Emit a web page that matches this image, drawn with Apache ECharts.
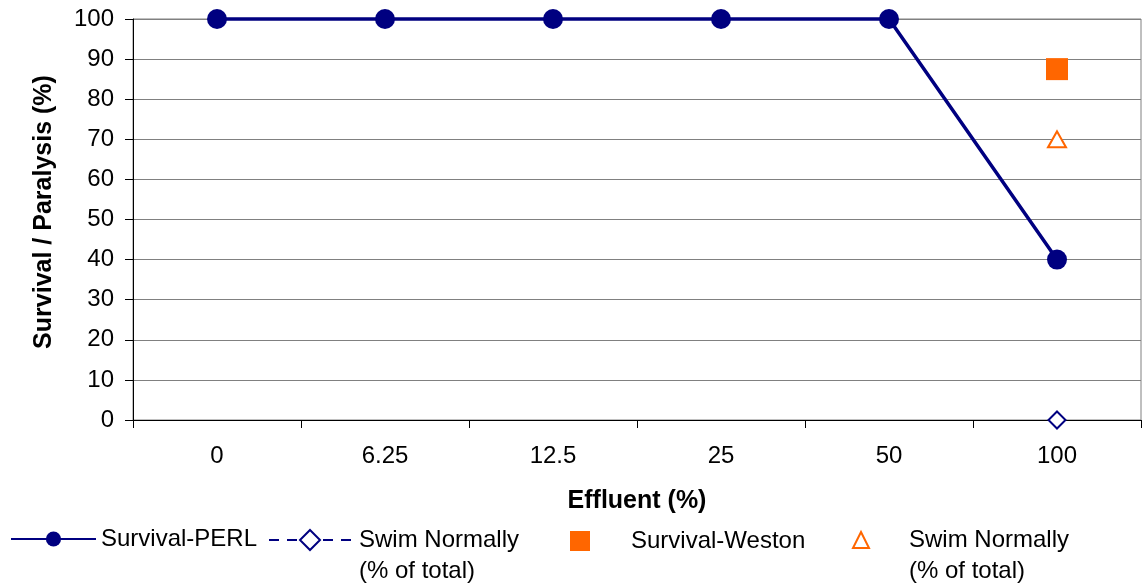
<!DOCTYPE html>
<html>
<head>
<meta charset="utf-8">
<script src="https://cdn.jsdelivr.net/npm/echarts@6/dist/echarts.min.js"></script>
<style>
html,body{margin:0;padding:0;background:#fff;}
#chart{width:1143px;height:584px;}
</style>
</head>
<body>
<div id="chart"></div>
<script>
const categories = ['0', '6.25', '12.5', '25', '50', '100'];
const survivalPERL = [100, 100, 100, 100, 100, 40];
const swimPERL = [null, null, null, null, null, 0];
const survivalWeston = [null, null, null, null, null, 87.5];
const swimWeston = [null, null, null, null, null, 70];
const seriesNames = ['Survival-PERL', 'Swim Normally (% of total)', 'Survival-Weston', 'Swim Normally (% of total) '];

const FONT = '"Liberation Sans", Arial, sans-serif';
const NAVY = '#000080';
const ORANGE = '#FF6600';

const chart = echarts.init(document.getElementById('chart'), null, {renderer: 'canvas'});

function legendFmt(name) {
  return name.indexOf('Swim Normally') === 0 ? '\nSwim Normally\n(% of total)' : name;
}

const option = {
  backgroundColor: '#ffffff',
  animation: false,
  grid: {
    left: 133, right: 2, top: 19, bottom: 164,
    show: true, borderColor: '#808080', borderWidth: 1
  },
  xAxis: {
    type: 'category',
    data: categories,
    boundaryGap: true,
    name: 'Effluent (%)',
    nameLocation: 'middle',
    nameGap: 69,
    nameTextStyle: {fontFamily: FONT, fontSize: 25, fontWeight: 'bold', color: '#000'},
    axisLine: {lineStyle: {color: '#000', width: 1}},
    axisTick: {show: true, length: 8, alignWithLabel: false, lineStyle: {color: '#000'}},
    axisLabel: {fontFamily: FONT, fontSize: 24, color: '#000', margin: 24},
    splitLine: {show: false}
  },
  yAxis: {
    type: 'value',
    min: 0, max: 100, interval: 10,
    name: 'Survival / Paralysis (%)',
    nameLocation: 'middle',
    nameGap: 76,
    nameTextStyle: {fontFamily: FONT, fontSize: 25, fontWeight: 'bold', color: '#000', padding: [0, 0, 0, 15]},
    axisLine: {show: true, lineStyle: {color: '#000', width: 1}},
    axisTick: {show: true, length: 8, lineStyle: {color: '#000'}},
    axisLabel: {fontFamily: FONT, fontSize: 24, color: '#000', margin: 19},
    splitLine: {show: true, lineStyle: {color: '#808080', width: 1}}
  },
  legend: [
    {
      data: [seriesNames[0]], left: 10, top: 527, padding: 0,
      itemWidth: 85, itemHeight: 19, formatter: legendFmt,
      textStyle: {fontFamily: FONT, fontSize: 24, color: '#000'}
    },
    {
      data: [seriesNames[1]], left: 268, top: 493.5, padding: 0,
      itemWidth: 82, itemHeight: 25, formatter: legendFmt,
      textStyle: {fontFamily: FONT, fontSize: 24, color: '#000', lineHeight: 31, padding: [0, 0, 0, 3]}
    },
    {
      data: [seriesNames[2]], left: 570, top: 529, padding: 0,
      itemWidth: 20, itemHeight: 20, formatter: legendFmt,
      textStyle: {fontFamily: FONT, fontSize: 24, color: '#000', padding: [0, 0, 0, 36]}
    },
    {
      data: [seriesNames[3]], left: 852, top: 493.5, padding: 0,
      itemWidth: 16, itemHeight: 16, formatter: legendFmt,
      textStyle: {fontFamily: FONT, fontSize: 24, color: '#000', lineHeight: 31, padding: [0, 0, 0, 35]}
    }
  ],
  series: [
    {
      name: seriesNames[0], type: 'line', data: survivalPERL,
      symbol: 'circle', symbolSize: 20, clip: false,
      lineStyle: {color: NAVY, width: 3.5},
      itemStyle: {color: NAVY}
    },
    {
      name: seriesNames[1], type: 'line', data: swimPERL,
      symbol: 'emptyDiamond', symbolSize: 17, clip: false,
      lineStyle: {color: NAVY, width: 2, type: [10, 8]},
      itemStyle: {color: NAVY, borderWidth: 2}
    },
    {
      name: seriesNames[2], type: 'scatter', data: survivalWeston,
      symbol: 'rect', symbolSize: 22, clip: false,
      itemStyle: {color: ORANGE, opacity: 1}
    },
    {
      name: seriesNames[3], type: 'scatter', data: swimWeston,
      symbol: 'emptyTriangle', symbolSize: [18, 16], clip: false,
      itemStyle: {color: ORANGE, borderWidth: 2, opacity: 1}
    }
  ]
};
chart.setOption(option);
</script>
</body>
</html>
